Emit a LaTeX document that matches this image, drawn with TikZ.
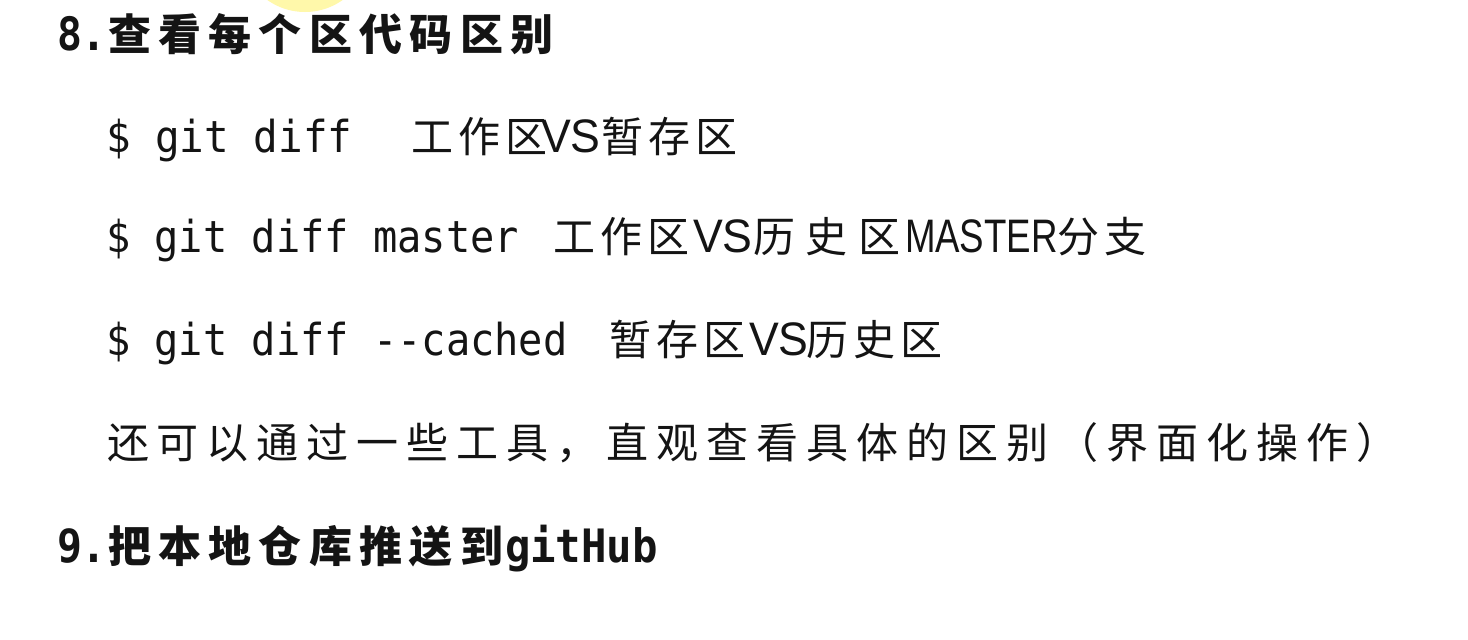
\documentclass[tikz,border=0pt]{standalone}
\usepackage{fontspec}
\usepackage{graphicx}
\newfontfamily\cjkA{Noto Sans CJK SC}[LetterSpace=12]
\newfontfamily\cjkB{Noto Sans CJK SC}[LetterSpace=26]
\newfontfamily\cjkL{Noto Sans CJK SC}[LetterSpace=19]
\newfontfamily\cjkH{Noto Sans CJK SC}[LetterSpace=17]
\newfontfamily\mono{DejaVu Sans Mono}
\newfontfamily\narrow{Liberation Sans}
\definecolor{ink}{RGB}{20,20,20}
\definecolor{blob}{RGB}{255,248,170}
\tikzset{
  txt/.style={anchor=base west, inner sep=0pt, outer sep=0pt, text=ink},
  zh/.style={txt, font=\cjkA\fontsize{42}{46}\selectfont},
  zhw/.style={txt, font=\cjkB\fontsize{42}{46}\selectfont},
  zhl/.style={txt, font=\cjkL\fontsize{42}{46}\selectfont},
  zhh/.style={txt, font=\cjkH\bfseries\fontsize{43}{46}\selectfont},
  code/.style={txt, font=\mono\fontsize{44}{46}\selectfont},
  codeh/.style={txt, font=\mono\bfseries\fontsize{46}{48}\selectfont},
  caps/.style={txt, font=\narrow\fontsize{47}{48}\selectfont},
}
\begin{document}
\begin{tikzpicture}[x=1pt,y=-1pt]
\useasboundingbox (0,0) rectangle (1468,640);
\fill[white] (0,0) rectangle (1468,640);
\fill[blob] (305,-53) circle (65);
% line 1
\node[codeh] (h8) at (57,50) {\scalebox{0.9}[1]{8.}};
\node[zhh] (h8t) at (108,50) {查看每个区代码区别};
% line 2
\node[code] (c1) at (106,152) {\scalebox{0.93}[1]{\$ git diff}};
\node[zh] (c1a) at (411,152) {工作区};
\node[caps] (c1b) at (541,152) {\scalebox{0.95}[1]{VS}};
\node[zh] (c1c) at (601,152) {暂存区};
% line 3
\node[code] (c2) at (106,252) {\scalebox{0.917}[1]{\$ git diff master}};
\node[zh] (c2a) at (553,252) {工作区};
\node[caps] (c2b) at (693,252) {\scalebox{0.95}[1]{VS}};
\node[zhw] (c2c) at (753,252) {历史区};
\node[caps] (c2d) at (905,252) {\scalebox{0.78}[1]{MASTER}};
\node[zh] (c2e) at (1057,252) {分支};
% line 4
\node[code] (c3) at (106,355) {\scalebox{0.917}[1]{\$ git diff -{}-cached}};
\node[zh] (c3a) at (609,355) {暂存区};
\node[caps] (c3b) at (749,355) {\scalebox{0.95}[1]{VS}};
\node[zh] (c3c) at (806,355) {历史区};
% line 5
\node[zhl] (note) at (107,458) {还可以通过一些工具，直观查看具体的区别（界面化操作）};
% line 6
\node[codeh] (h9) at (57,562) {\scalebox{0.9}[1]{9.}};
\node[zhh] (h9t) at (108,562) {把本地仓库推送到};
\node[codeh] (h9g) at (505,562) {\scalebox{0.92}[1]{gitHub}};
\end{tikzpicture}
\end{document}
